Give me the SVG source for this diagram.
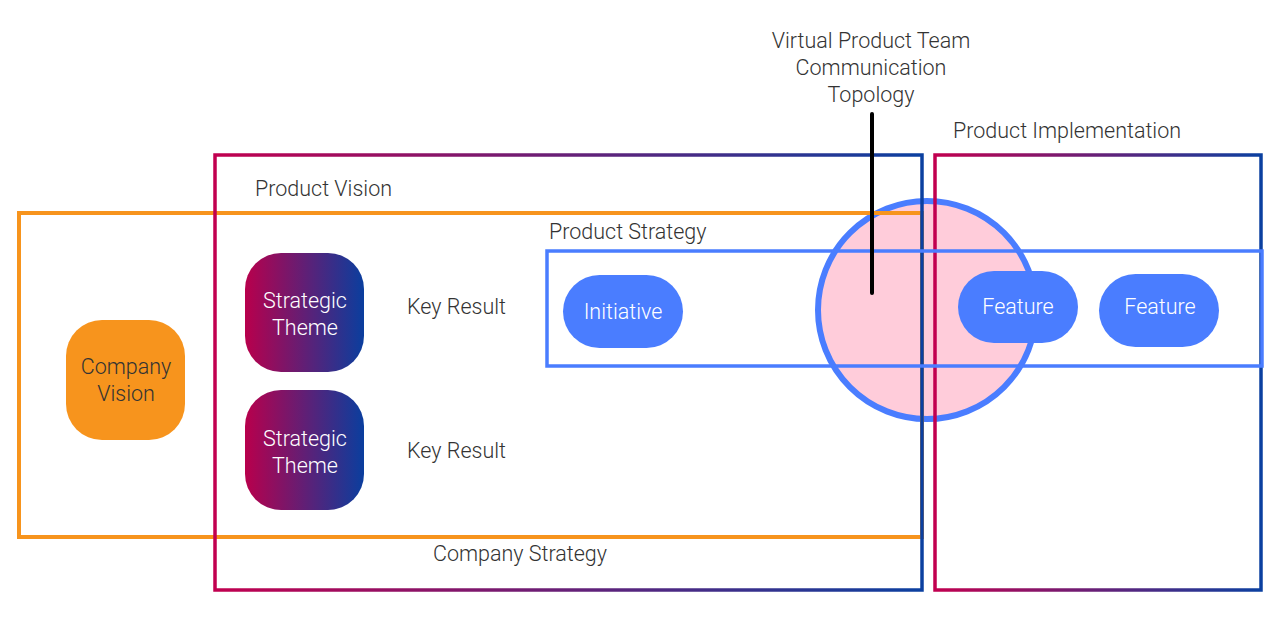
<svg xmlns="http://www.w3.org/2000/svg" width="1280" height="629" viewBox="0 0 1280 629">
<defs>
<linearGradient id="boxGrad" x1="0" y1="0" x2="1" y2="0">
<stop offset="0" stop-color="#C1004F"/>
<stop offset="1" stop-color="#0B40A0"/>
</linearGradient>
<linearGradient id="themeGrad" x1="0" y1="0" x2="1" y2="0">
<stop offset="0" stop-color="#B8004C"/>
<stop offset="1" stop-color="#0A3E9E"/>
</linearGradient>
<style>
text{font-family:"Roboto","Liberation Sans",sans-serif;font-weight:300;font-size:21.5px;fill:#333333}
.w{fill:#ffffff;text-anchor:middle}
.c{text-anchor:middle}
.pill{fill:#4A7DFF}
</style>
</defs>
<rect width="1280" height="629" fill="#ffffff"/>

<g id="topology-circle">
<circle cx="927" cy="310" r="109" fill="#FFCCDA" stroke="#4A7DFF" stroke-width="6"/>
</g>

<g id="company-strategy">
<rect x="19" y="213" width="903" height="324" fill="none" stroke="#F7941D" stroke-width="4"/>
<text x="520" y="561" class="c">Company Strategy</text>
</g>

<g id="product-vision">
<rect x="215" y="155" width="707" height="435" fill="none" stroke="url(#boxGrad)" stroke-width="3.5"/>
<text x="255" y="196">Product Vision</text>
</g>

<g id="product-implementation">
<rect x="935" y="155" width="326" height="435" fill="none" stroke="url(#boxGrad)" stroke-width="3.5"/>
<text x="953" y="138">Product Implementation</text>
</g>

<g id="product-strategy">
<rect x="547" y="251" width="715" height="115" fill="none" stroke="#4A7DFF" stroke-width="3.5"/>
<text x="549" y="239">Product Strategy</text>
</g>

<g id="connectors">
<line x1="872" y1="114" x2="872" y2="293" stroke="#000000" stroke-width="4" stroke-linecap="round"/>
</g>

<g id="topology-label">
<text x="871" y="48" class="c">Virtual Product Team</text>
<text x="871" y="75" class="c">Communication</text>
<text x="871" y="102" class="c">Topology</text>
</g>

<g id="company-vision">
<rect x="66" y="320" width="119" height="120" rx="36" fill="#F7941D"/>
<text x="126" y="374" class="c">Company</text>
<text x="126" y="401" class="c">Vision</text>
</g>

<g id="strategic-theme-1">
<rect x="245" y="253" width="119" height="119" rx="36" fill="url(#themeGrad)"/>
<text x="305" y="308" class="w">Strategic</text>
<text x="305" y="335" class="w">Theme</text>
</g>

<g id="strategic-theme-2">
<rect x="245" y="390" width="119" height="120" rx="36" fill="url(#themeGrad)"/>
<text x="305" y="446" class="w">Strategic</text>
<text x="305" y="473" class="w">Theme</text>
</g>

<g id="key-result-1">
<text x="407" y="314">Key Result</text>
</g>
<g id="key-result-2">
<text x="407" y="458">Key Result</text>
</g>

<g id="initiative">
<rect x="563" y="275" width="120" height="73" rx="36.5" class="pill"/>
<text x="623" y="319" class="w">Initiative</text>
</g>

<g id="feature-1">
<rect x="958" y="271" width="120" height="72" rx="36" class="pill"/>
<text x="1018" y="314" class="w">Feature</text>
</g>

<g id="feature-2">
<rect x="1099" y="274" width="120" height="73" rx="36.5" class="pill"/>
<text x="1160" y="314" class="w">Feature</text>
</g>
</svg>
